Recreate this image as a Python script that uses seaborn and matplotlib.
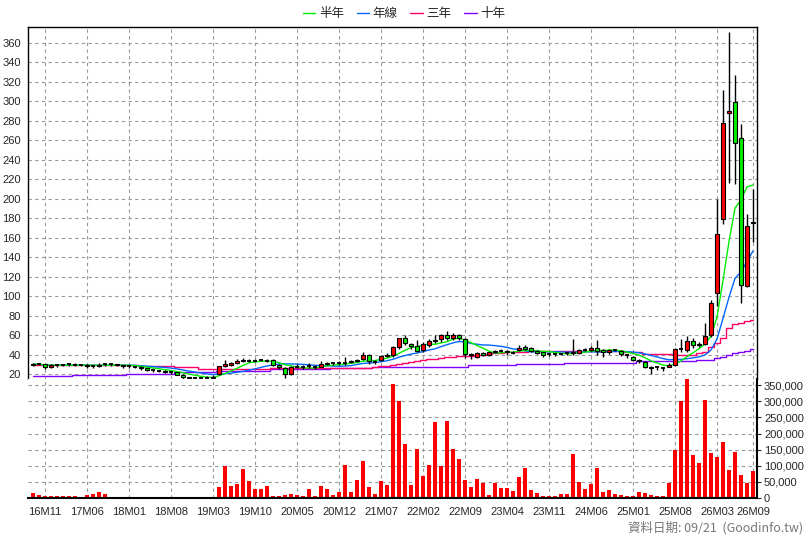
import numpy as np
import pandas as pd
import matplotlib
matplotlib.use("Agg")
import matplotlib.pyplot as plt
import seaborn as sns

sns.set_style("white")
plt.rcParams['font.family'] = ['Liberation Sans', 'Noto Sans CJK TC', 'DejaVu Sans']

opens = [29,30,30,27.5,29,29,29.5,30,29.5,29.5,28,28,29.5,30,30,29,28,28,27.5,26,24,24,23.5,22.5,22,19.5,17,16,16,16,16.5,
         20,28,29,31,33,34,33.5,33.5,34,34,29,26,20,27,27.5,27.5,28,27.5,30,31,31,31,32,33,36,40,33,34,38.5,
         39.5,48,56.6,51,48.7,44.6,50,53.5,56,60,56.6,60.4,55.6,41,37.8,42,40,42.6,43.6,44,42.6,44.5,48,47,44,42.5,
         40,40.7,40.7,41,41.4,41.4,45,45,47,45,43,44.3,44,40.3,38,34.6,32.5,27.8,26.4,27,27.5,29,46,44.3,54,50.3,51.4,
         59.8,103,179.5,288,299.5,262,110,175]
closes = [30,30.5,27,29,29,29.5,30,29.5,29.5,28,28,29.5,30,30,29,28,28,27.5,26,24,24,23.5,22.5,22,19.5,17,16,16,16,16.5,17.5,
          28,30,31,33,34,33.5,33.5,34,33.5,29,27.5,20,27,27.5,27.5,28,27.5,30,31,31,31,31,33,34,40,33,32.5,38.5,39.5,
          48,56.6,51.5,49,44,50.4,53.5,55,60,56.6,60.4,56.6,41,39.5,42,40,42.6,43.6,44,42.6,42,47,46,44,42,39.6,
          40.7,40.7,40.7,41.4,42.5,45,45,47,44,42.5,44.3,45,40.3,39.6,34.6,33.5,27.8,26.4,27,26.4,29.3,46,45.3,54,50.3,51.4,59.3,
          93.3,163.4,278,289.5,257.4,111.5,172,176]
highs = [31,31.5,30.5,30,30,30.5,31,31,30.5,30,29.5,31,31,31,30.5,29.5,29,28.5,28,26.5,25,24.5,24,23.5,22.5,20,17.5,17,17,18,19,
         28.5,34,32,36,37,36,35,35,35,35,30,27,28,30,29,31,29,33,32.5,32,33,38,34,36,43,41,34,40,42,
         49,57,60,52,55,53,56,60,61,64,62,61,57,42,43,43,43,45,46,44.5,44,50,50,48,45,43,
         42,42,42,43,56,46,46.5,49,55,46,46,46,45,41,39,35,33,28.5,28,27.5,31,47,56,59,57,53,72,
         96,200,311,371,326.5,277,184,209.6]
lows = [28,29,25,26,27,28,28.5,28.5,28,26,26,27.5,28.5,28.5,28,26.5,26,26,24.5,23.5,22.5,22,21,20.5,19,15,14.5,15,14.5,15.5,16,
        19.5,27,28,30,32,32,32.5,33,32.5,28,25,16,19.5,26,25,26.5,25.5,27,29.5,29.5,29.5,29.5,31,32.5,34,30,30.5,33,37.5,
        38,46,50,46,43,43,48,52,53,55,55,55,37,36,37,39,39,42,42.5,40,40.5,44,45,43,41,38,
        38.5,39,39.5,40,40,40.5,43.5,44,40,38,41,43.5,39,37,33,31,26,20,24,23,27,28,43,43,47,48,50,
        58,90,174,216,215,93,109,155]
volumes = [14.6,8,5,5,5,7,7,5,2,8,11,18,11,2,2,2,2,2,2,2,2,2,2,2,2,2,2,2,2,2,2,
           34,99,36,43,91,52,27,27,36,5,5,8,11,8,5,27,5,36,27,8,18,102,18,55,115,33,11,52,40,
           355,302,168,40,152,68,102,236,99,240,152,121,55,33,58,46,8,46,30,30,21,65,93,24,15,5,
           5,5,13,13,135,51,29,44,94,18,25,13,10,6,6,18,16,9,6,6,45,148,300,380,132,109,303,141,128,173,86,144,71,48,83]
volumes = [v * 1000 for v in volumes]
ma_3y = [29]*18 + [28.4]*6 + [27]*4 + [25.6]*3 + [25]*9 + [25.8]*9 + [26.5]*8 + [27.5,28,28.5] + \
        [29,30,31.6,32.6,33.7,34.4,35,36,36.8,37.3,37.8,38.2,38.5] + \
        [39,39.5,40,40.6,41.3,42,42.5,42.8,43,43.2,43.4,43.5,43.6] + [43.6]*13 + [42.5]*3 + [40.7]*5 + [40]*4 + \
        [41.4,42.5,47.8,52,57,67.7,71,72.7,74.5,76]
ma_10y = [18]*7 + [18.6]*9 + [20.3]*8 + [21.7]*7 + [23]*9 + [24.8]*10 + [25.8]*7 + [26.8]*8 + [27.5]*8 + \
         [29]*8 + [30.8]*8 + [31.8]*12 + [33.6]*10 + [34.3]*3 + [36.4,38,40,42,43,44,46]
tick_labels = ["16M11","17M06","18M01","18M08","19M03","19M10","20M05","20M12","21M07","22M02",
               "22M09","23M04","23M11","24M06","25M01","25M08","26M03","26M09"]
tick_pos = [2 + 7 * k for k in range(17)] + [120]

n = len(closes)
df = pd.DataFrame({"x": np.arange(n), "open": opens, "close": closes, "high": highs, "low": lows,
                   "vol": volumes, "ma3y": ma_3y, "ma10y": ma_10y})
df["ma6"] = df["close"].rolling(6, min_periods=1).mean()
df["ma12"] = df["close"].rolling(12, min_periods=1).mean()

fig = plt.figure(figsize=(8.08, 5.40), dpi=100)
L, R = 28/808, 757/808
axp = fig.add_axes([L, 1-379/540, R-L, (379-27)/540])
axv = fig.add_axes([L, 1-498/540, R-L, (498-379)/540], sharex=axp)

for col, colr in [("ma10y", "#8000ff"), ("ma3y", "#ff0066"), ("ma12", "#0066ff"), ("ma6", "#00ee00")]:
    sns.lineplot(data=df, x="x", y=col, ax=axp, color=colr, lw=1,
                 drawstyle="steps-mid" if col in ("ma3y", "ma10y") else None, legend=False)

axp.vlines(df["x"], df["low"], df["high"], color="black", lw=1, zorder=3)
body_bottom = np.minimum(df["open"], df["close"])
body_h = np.abs(df["close"] - df["open"])
colors = np.array(["#ff0000" if c >= o else "#00ee00" for o, c in zip(df["open"], df["close"])])
big = (body_h >= 0.8).to_numpy()
axp.bar(df["x"][big], body_h[big], bottom=body_bottom[big], width=0.62, color=colors[big],
        edgecolor="black", linewidth=0.8, zorder=4)
small = ~big
axp.hlines(df["close"][small], df["x"][small]-0.35, df["x"][small]+0.35, color="black", lw=1.3, zorder=4)

axp.set_ylim(15, 376)
axp.set_yticks(range(20, 361, 20))
axp.set_xlim(-0.83, 120.67)
axp.grid(True, ls=(0, (3, 3)), color="#999999", lw=0.8)
axp.set_xlabel(""); axp.set_ylabel("")
axp.tick_params(axis="x", bottom=False, labelbottom=False)
axp.tick_params(axis="y", labelsize=8, length=3, pad=2)
for s in axp.spines.values():
    s.set_color("black"); s.set_linewidth(1)
axp.spines["bottom"].set_visible(False)

sns.barplot(data=df, x="x", y="vol", ax=axv, native_scale=True, color="#ff0000", width=0.55,
            saturation=1, edgecolor="none")
axv.set_ylim(0, 369000)
axv.set_yticks(range(0, 350001, 50000))
axv.yaxis.tick_right()
axv.set_yticklabels([f"{v:,}" for v in range(0, 350001, 50000)])
axv.tick_params(axis="y", labelsize=8, length=3, pad=2)
axv.set_xticks(tick_pos)
axv.set_xticklabels(tick_labels)
axv.tick_params(axis="x", labelsize=8, length=3)
axv.set_xlim(-0.83, 120.67)
axv.grid(True, ls=(0, (3, 3)), color="#999999", lw=0.8)
axv.set_axisbelow(True)
axv.set_xlabel(""); axv.set_ylabel("")
axv.spines["top"].set_visible(False)
axv.spines["left"].set_visible(False)
for s in ("bottom", "right"):
    axv.spines[s].set_color("black"); axv.spines[s].set_linewidth(1.5)

from matplotlib.lines import Line2D
handles = [Line2D([], [], color=c, lw=1) for c in ["#00ee00", "#0066ff", "#ff0066", "#8000ff"]]
fig.legend(handles, ["半年", "年線", "三年", "十年"], loc="center", bbox_to_anchor=(0.5, 1-14/540),
           ncol=4, frameon=False, handlelength=1, handletextpad=0.3, columnspacing=1.0,
           prop={"family": ["Noto Sans CJK TC"], "size": 9})
fig.text(803/808, 1-528/540, "資料日期: 09/21  (Goodinfo.tw)", ha="right", va="center", fontsize=9,
         color="#777777", family=["Noto Sans CJK TC", "Liberation Sans"])

fig.savefig("out.png", dpi=100)
